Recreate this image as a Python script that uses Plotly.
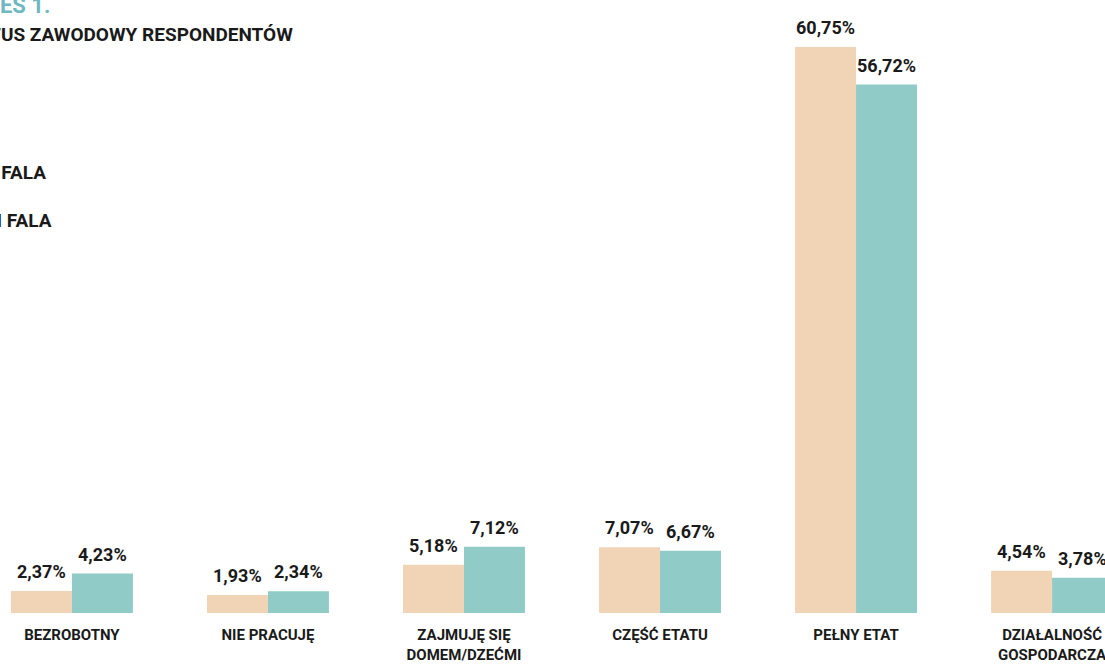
import plotly.graph_objects as go

categories = ["BEZROBOTNY", "NIE PRACUJĘ", "ZAJMUJĘ SIĘ<br>DOMEM/DZEĆMI", "CZĘŚĆ ETATU", "PEŁNY ETAT", "DZIAŁALNOŚĆ<br>GOSPODARCZA"]
fala1 = [2.37, 1.93, 5.18, 7.07, 60.75, 4.54]
fala2 = [4.23, 2.34, 7.12, 6.67, 56.72, 3.78]
series_names = ["I FALA", "II FALA"]
title_prefix = "WYKRES 1."
title_main = "STATUS ZAWODOWY RESPONDENTÓW"

PEACH = "#F1D4B6"
TEAL = "#91CBC8"
TITLE_TEAL = "#6DB8C2"
DARK = "#1a1a1a"
FONT = "Roboto, Liberation Sans Narrow, sans-serif"

W, H = 1105, 664
PLOT_H = 613
BAR_PX = 61

def fmt(v):
    return f"{v:.2f}".replace(".", ",") + "%"

fig = go.Figure()
for vals, col, name in [(fala1, PEACH, series_names[0]), (fala2, TEAL, series_names[1])]:
    fig.add_trace(go.Bar(x=categories, y=vals, name=name, marker=dict(color=col, line=dict(width=0)),
                         showlegend=False, hoverinfo="x+y"))

anns = []
for vals, shift in [(fala1, -BAR_PX / 2), (fala2, BAR_PX / 2)]:
    for c, v in zip(categories, vals):
        anns.append(dict(text=fmt(v), x=c, y=v, xref="x", yref="y", xanchor="center", yanchor="bottom",
                         xshift=shift, yshift=7, showarrow=False,
                         font=dict(family=FONT, size=18, color=DARK, weight="bold")))

def px_x(px):
    return px / W
def px_y(py):
    return 1 - py / PLOT_H

anns.append(dict(text=title_prefix, x=px_x(52), y=px_y(6), xref="paper", yref="paper", xanchor="right", yanchor="middle",
                 showarrow=False, font=dict(family=FONT, size=22, color=TITLE_TEAL, weight="bold")))
anns.append(dict(text=title_main, x=px_x(295), y=px_y(34), xref="paper", yref="paper", xanchor="right", yanchor="middle",
                 showarrow=False, font=dict(family=FONT, size=19, color=DARK, weight="bold")))
anns.append(dict(text=series_names[0], x=px_x(48), y=px_y(172), xref="paper", yref="paper", xanchor="right", yanchor="middle",
                 showarrow=False, font=dict(family=FONT, size=19, color=DARK, weight="bold")))
anns.append(dict(text=series_names[1], x=px_x(54), y=px_y(220), xref="paper", yref="paper", xanchor="right", yanchor="middle",
                 showarrow=False, font=dict(family=FONT, size=19, color=DARK, weight="bold")))

fig.update_layout(
    width=W, height=H,
    margin=dict(l=0, r=0, t=0, b=H - PLOT_H, autoexpand=False),
    barmode="group", bargap=0.378, bargroupgap=0,
    plot_bgcolor="white", paper_bgcolor="white",
    xaxis=dict(range=[-0.367, 5.270], showgrid=False, zeroline=False, showline=False, ticks="",
               automargin=False,
               tickfont=dict(family=FONT, size=15, color=DARK, weight="bold"), ticklabelstandoff=11),
    yaxis=dict(range=[0, PLOT_H / 9.317], visible=False, showgrid=False, zeroline=False),
    annotations=anns,
)

fig.write_html("out.html", config={"displayModeBar": False},
               post_script="document.body.style.margin='0';document.body.style.overflow='hidden';")
